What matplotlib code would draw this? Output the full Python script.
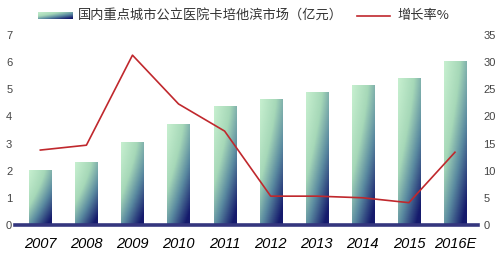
import numpy as np
import matplotlib
matplotlib.use("Agg")
import matplotlib.pyplot as plt
from matplotlib.colors import LinearSegmentedColormap
from matplotlib.lines import Line2D

plt.rcParams['font.family'] = ['Noto Sans CJK SC', 'DejaVu Sans']

years = ['2007', '2008', '2009', '2010', '2011', '2012', '2013', '2014', '2015', '2016E']
market = [2.03, 2.32, 3.06, 3.72, 4.38, 4.64, 4.9, 5.16, 5.42, 6.04]
growth = [13.8, 14.7, 31.3, 22.3, 17.3, 5.3, 5.3, 5.0, 4.1, 13.4]

bar_label = '国内重点城市公立医院卡培他滨市场（亿元）'
line_label = '增长率%'

cmap = LinearSegmentedColormap.from_list(
    'g', [(0, '#c6efcf'), (0.35, '#a6d8b8'), (0.65, '#5a8aa0'), (1, '#151a6c')])


def gradient(n=64):
    # row 0 = top of the bar, column 0 = left side
    xx, yy = np.meshgrid(np.linspace(0, 1, n), np.linspace(0, 1, n))
    return np.clip(0.5 * xx + 0.6 * yy ** 1.3, 0, 1)


fig = plt.figure(figsize=(5, 2.6), dpi=100)
ax = fig.add_axes([0.03, 0.135, 0.926, 0.73])
x = np.arange(len(years))
w = 0.48
bars = ax.bar(x, market, width=w, color='none', zorder=2)
g = gradient()
for b in bars:
    x0, y0 = b.get_x(), b.get_y()
    im = ax.imshow(g, cmap=cmap, vmin=0, vmax=1,
                   extent=[x0, x0 + b.get_width(), y0, y0 + b.get_height()],
                   aspect='auto', zorder=2, origin='upper')
    im.set_clip_path(b)
ax.set_xlim(-0.55, 9.5)
ax.set_ylim(0, 7)
ax.axhline(0, color='#34367e', lw=2.6, zorder=3, clip_on=False)

for s in ax.spines.values():
    s.set_visible(False)
ax.set_yticks(range(8))
ax.tick_params(axis='y', length=0, labelsize=8, labelcolor='#444444', pad=2)
for t in ax.get_yticklabels():
    t.set_fontfamily('Liberation Sans')
ax.set_xticks(x)
ax.set_xticklabels(years, fontstyle='italic', fontsize=10.5, fontfamily='Liberation Sans')
ax.tick_params(axis='x', length=0, pad=9)

ax2 = ax.twinx()
ax2.plot(x, growth, color='#c0282d', lw=1.2, zorder=4)
ax2.set_ylim(0, 35)
ax2.set_yticks(range(0, 36, 5))
ax2.tick_params(axis='y', length=0, labelsize=8, labelcolor='#444444', pad=4)
for t in ax2.get_yticklabels():
    t.set_fontfamily('Liberation Sans')
for s in ax2.spines.values():
    s.set_visible(False)

# legend drawn by hand so the swatch keeps its gradient
sw = fig.add_axes([0.076, 0.925, 0.068, 0.028])
sw.imshow(gradient(), cmap=cmap, vmin=0, vmax=1, aspect='auto',
          extent=[0, 1, 0, 1], origin='upper')
sw.axis('off')
fig.text(0.155, 0.94, bar_label, fontsize=9.5, va='center', color='#333333')
fig.add_artist(Line2D([0.714, 0.78], [0.94, 0.94], color='#c0282d', lw=1.2))
fig.text(0.795, 0.94, line_label, fontsize=9.5, va='center', color='#333333')

fig.savefig('out.png', dpi=100)
